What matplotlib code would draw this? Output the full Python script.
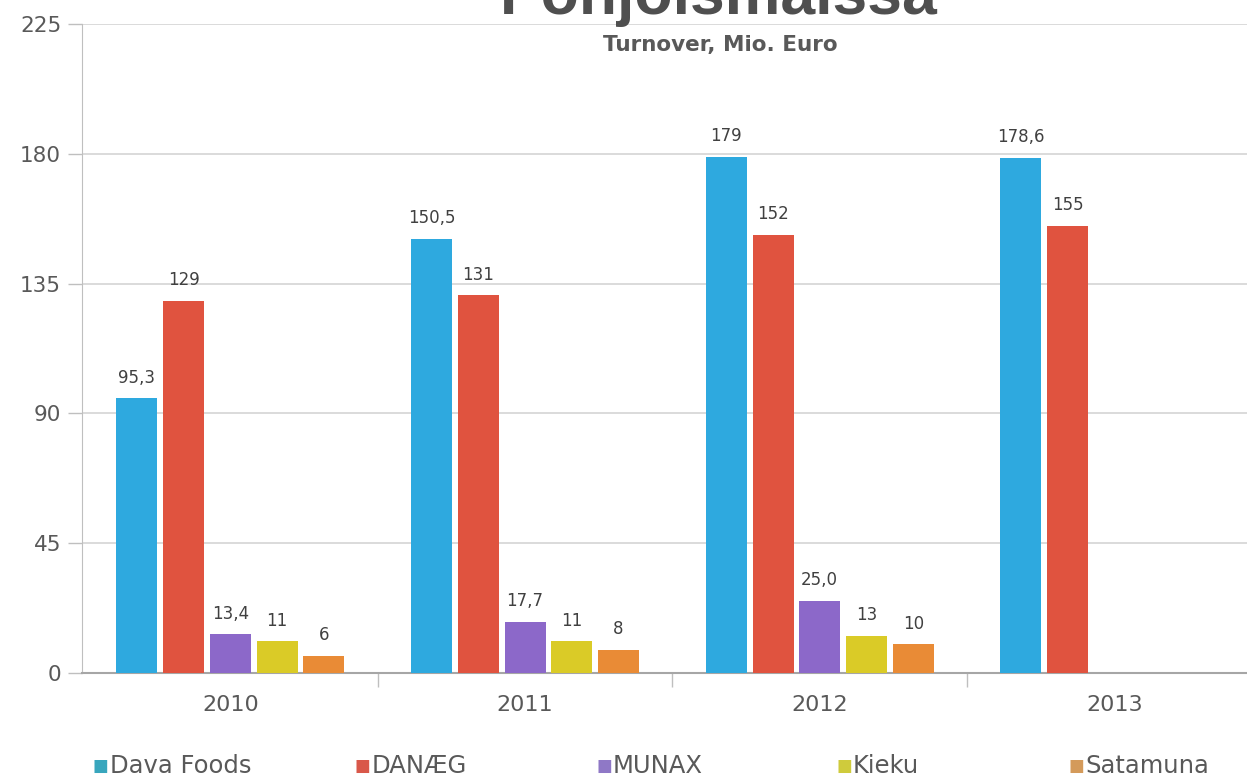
import matplotlib
matplotlib.use("Agg")
import matplotlib.pyplot as plt
import numpy as np

years = ["2010", "2011", "2012", "2013"]
series = ["Dava Foods", "DANÆG", "MUNAX", "Kieku", "Satamuna"]
values = {
    "Dava Foods": [95.3, 150.5, 179.0, 178.6],
    "DANÆG": [129, 131, 152, 155],
    "MUNAX": [13.4, 17.7, 25.0, None],
    "Kieku": [11, 11, 13, None],
    "Satamuna": [6, 8, 10, None],
}
labels = {
    "Dava Foods": ["95,3", "150,5", "179", "178,6"],
    "DANÆG": ["129", "131", "152", "155"],
    "MUNAX": ["13,4", "17,7", "25,0", None],
    "Kieku": ["11", "11", "13", None],
    "Satamuna": ["6", "8", "10", None],
}
colors = {
    "Dava Foods": "#2EA9DF",
    "DANÆG": "#E0533F",
    "MUNAX": "#8C68C9",
    "Kieku": "#DACB27",
    "Satamuna": "#E98B36",
}
legend_colors = {
    "Dava Foods": "#38A6BD",
    "DANÆG": "#D9584A",
    "MUNAX": "#8F78C6",
    "Kieku": "#CFCB3C",
    "Satamuna": "#D49A5A",
}
yticks = [0, 45, 90, 135, 180, 225]
title = "Pohjoismaissa"
subtitle = "Turnover, Mio. Euro"

plt.rcParams['font.family'] = ['DejaVu Sans']

W, H = 1247, 779
fig = plt.figure(figsize=(W / 100, H / 100), dpi=100)
left_px, right_px = 82, 1247
bottom_px, top_px = 673, 24
ax = fig.add_axes([left_px / W, 1 - bottom_px / H, (right_px - left_px) / W, (bottom_px - top_px) / H])

cat_w = 294.7
cat_left_px = 83.0
step = 46.75 / cat_w
bw = 41 / cat_w
x = np.arange(len(years))
for i, s in enumerate(series):
    for j, v in enumerate(values[s]):
        if v is None:
            continue
        xc = x[j] + (i - 2) * step
        ax.bar(xc, v, width=bw, color=colors[s], zorder=3)
        ax.text(xc, v + 4.0, labels[s][j], ha='center', va='bottom', fontsize=12,
                color='#404040', zorder=4)

ax.set_yticks(yticks)
ax.set_yticklabels([str(t) for t in yticks], fontsize=15.5, color='#595959')
ax.yaxis.grid(True, color='#D4D4D4', linewidth=1.2, zorder=0)
ax.set_axisbelow(True)

ax.set_xticks(x)
ax.set_xticklabels(years, fontsize=16, color='#595959')
ax.tick_params(axis='x', length=0, pad=16)
ax.set_xticks(np.arange(0.5, 2.6, 1.0), minor=True)
ax.tick_params(axis='x', which='minor', length=10, color='#BFBFBF', width=1)
ax.tick_params(axis='y', length=10, color='#BFBFBF', width=1, pad=5)

x0 = -0.5 - (cat_left_px - left_px) / cat_w
ax.set_xlim(x0, x0 + (right_px - left_px) / cat_w)
ax.set_ylim(0, 225)

for sp in ['top', 'right']:
    ax.spines[sp].set_visible(False)
ax.spines['left'].set_color('#BFBFBF')
ax.spines['bottom'].set_color('#A6A6A6')
ax.spines['bottom'].set_linewidth(1.5)

fig.text(719 / W, 1 - 14 / H, title, ha='center', va='baseline', fontsize=45,
         fontweight='bold', color='#4F4F4F', family='Liberation Sans')
fig.text(720 / W, 1 - 51 / H, subtitle, ha='center', va='baseline', fontsize=15.5,
         fontweight='bold', color='#595959')

leg_x = [93, 355, 596, 836, 1068]
for s, lx in zip(series, leg_x):
    fig.text(lx / W, 1 - 766 / H, "■", ha='left', va='center', fontsize=12,
             color=legend_colors[s])
    fig.text((lx + 17) / W, 1 - 766 / H, s, ha='left', va='center', fontsize=17.5,
             color='#595959')

fig.savefig("out.png", dpi=100)
